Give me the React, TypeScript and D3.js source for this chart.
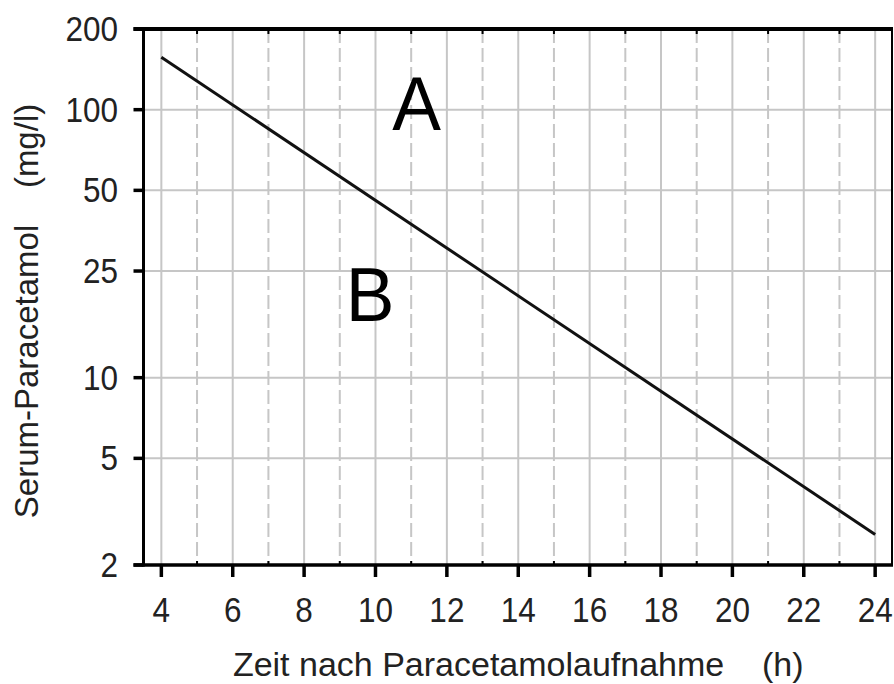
import { useEffect, useRef } from "react";
import * as d3 from "d3";

// treatment line (hours after ingestion -> mg/l)
const lineHours = [4, 24];
const lineLevels = [157, 2.6];

const yTickValues = [2, 5, 10, 25, 50, 100, 200];
const xTickValues = [4, 6, 8, 10, 12, 14, 16, 18, 20, 22, 24];
const oddHours = [5, 7, 9, 11, 13, 15, 17, 19, 21, 23];

const zoneNames = ["A", "B"];
const zoneHours = [11.15, 9.85];
const zoneLevels = [83, 16.1];

const FONT = "'Liberation Sans', Arial, sans-serif";

export default function App() {
  const svgRef = useRef<SVGSVGElement>(null);
  const width = 894;
  const height = 684;

  useEffect(() => {
    const svg = svgRef.current;
    if (!svg) return;
    document.body.style.margin = "0";

    const root = d3.select(svg);
    root.selectAll("*").remove();

    const left = 143.5;
    const right = 893;
    const top = 29;
    const bottom = 565;

    const x = d3.scaleLinear().domain([3.5, 24.5]).range([left, right]);
    const y = d3.scaleLog().domain([2, 200]).range([bottom, top]);

    const grid = root.append("g").attr("stroke", "#c6c6c6").attr("stroke-width", 2);

    // horizontal grid
    grid
      .selectAll("line.h")
      .data(yTickValues.filter((v) => v !== 2 && v !== 200))
      .join("line")
      .attr("x1", left)
      .attr("x2", right)
      .attr("y1", (d) => y(d))
      .attr("y2", (d) => y(d));

    // even hours: solid, odd hours: dashed
    grid
      .selectAll("line.ve")
      .data(xTickValues)
      .join("line")
      .attr("x1", (d) => x(d))
      .attr("x2", (d) => x(d))
      .attr("y1", top)
      .attr("y2", bottom);

    grid
      .append("g")
      .attr("stroke-dasharray", "14,5")
      .selectAll("line")
      .data(oddHours)
      .join("line")
      .attr("x1", (d) => x(d))
      .attr("x2", (d) => x(d))
      .attr("y1", top)
      .attr("y2", bottom);

    // frame
    const frame = root.append("g").attr("stroke", "#000");
    frame.append("line").attr("x1", left).attr("x2", left).attr("y1", top - 2).attr("y2", bottom + 1.5).attr("stroke-width", 3);
    frame.append("line").attr("x1", left - 10).attr("x2", right).attr("y1", bottom).attr("y2", bottom).attr("stroke-width", 3.5);
    frame.append("line").attr("x1", left - 10).attr("x2", right).attr("y1", top).attr("y2", top).attr("stroke-width", 4);
    frame.append("line").attr("x1", right - 1).attr("x2", right - 1).attr("y1", top).attr("y2", bottom).attr("stroke-width", 2);

    // y ticks + labels
    const yAxis = root.append("g");
    yAxis
      .selectAll("line")
      .data(yTickValues)
      .join("line")
      .attr("x1", left - 10)
      .attr("x2", left)
      .attr("y1", (d) => y(d))
      .attr("y2", (d) => y(d))
      .attr("stroke", "#000")
      .attr("stroke-width", 3.5);
    yAxis
      .selectAll("text")
      .data(yTickValues)
      .join("text")
      .attr("transform", (d) => `translate(${left - 25.5},${y(d) + 12}) scale(1,1.1)`)
      .attr("text-anchor", "end")
      .attr("font-family", FONT)
      .attr("font-size", 31.5)
      .attr("fill", "#222")
      .text((d) => String(d));

    // x ticks + labels
    const xAxis = root.append("g");
    xAxis
      .selectAll("line")
      .data(xTickValues)
      .join("line")
      .attr("x1", (d) => x(d))
      .attr("x2", (d) => x(d))
      .attr("y1", bottom)
      .attr("y2", bottom + 12)
      .attr("stroke", "#000")
      .attr("stroke-width", 3.5);
    xAxis
      .selectAll("line.minor-b")
      .data(oddHours)
      .join("line")
      .attr("x1", (d) => x(d))
      .attr("x2", (d) => x(d))
      .attr("y1", bottom - 4)
      .attr("y2", bottom)
      .attr("stroke", "#000")
      .attr("stroke-width", 2);
    root
      .append("g")
      .selectAll("line")
      .data(oddHours)
      .join("line")
      .attr("x1", (d) => x(d))
      .attr("x2", (d) => x(d))
      .attr("y1", top)
      .attr("y2", top + 5)
      .attr("stroke", "#000")
      .attr("stroke-width", 2);
    xAxis
      .selectAll("text")
      .data(xTickValues)
      .join("text")
      .attr("transform", (d) => `translate(${x(d)},${bottom + 57}) scale(1,1.1)`)
      .attr("text-anchor", "middle")
      .attr("font-family", FONT)
      .attr("font-size", 31.5)
      .attr("fill", "#222")
      .text((d) => String(d));

    // treatment line
    const pts = lineHours.map((h, i) => [h, lineLevels[i]] as [number, number]);
    root
      .append("path")
      .datum(pts)
      .attr("fill", "none")
      .attr("stroke", "#111")
      .attr("stroke-width", 3)
      .attr(
        "d",
        d3
          .line<[number, number]>()
          .x((d) => x(d[0]))
          .y((d) => y(d[1]))
      );

    // zone letters
    root
      .append("g")
      .selectAll("text")
      .data(zoneNames)
      .join("text")
      .attr("transform", (_, i) => `translate(${x(zoneHours[i])},${y(zoneLevels[i]) - 1}) scale(1,1.05)`)
      .attr("text-anchor", "middle")
      .attr("font-family", FONT)
      .attr("font-size", 73)
      .attr("fill", "#000")
      .text((d) => d);

    // axis titles
    root
      .append("text")
      .attr("x", (left + right) / 2)
      .attr("y", 676)
      .attr("text-anchor", "middle")
      .attr("font-family", FONT)
      .attr("font-size", 34)
      .attr("fill", "#222")
      .style("white-space", "pre")
      .text("Zeit nach Paracetamolaufnahme    (h)");

    root
      .append("text")
      .attr("transform", `translate(38,311) rotate(-90)`)
      .attr("text-anchor", "middle")
      .attr("font-family", FONT)
      .attr("font-size", 33)
      .attr("fill", "#222")
      .style("white-space", "pre")
      .text("Serum-Paracetamol    (mg/l)");
  }, []);

  return (
    <svg
      ref={svgRef}
      width={width}
      height={height}
      viewBox={`0 0 ${width} ${height}`}
      style={{ position: "absolute", left: 0, top: 0, background: "#fff" }}
    />
  );
}
